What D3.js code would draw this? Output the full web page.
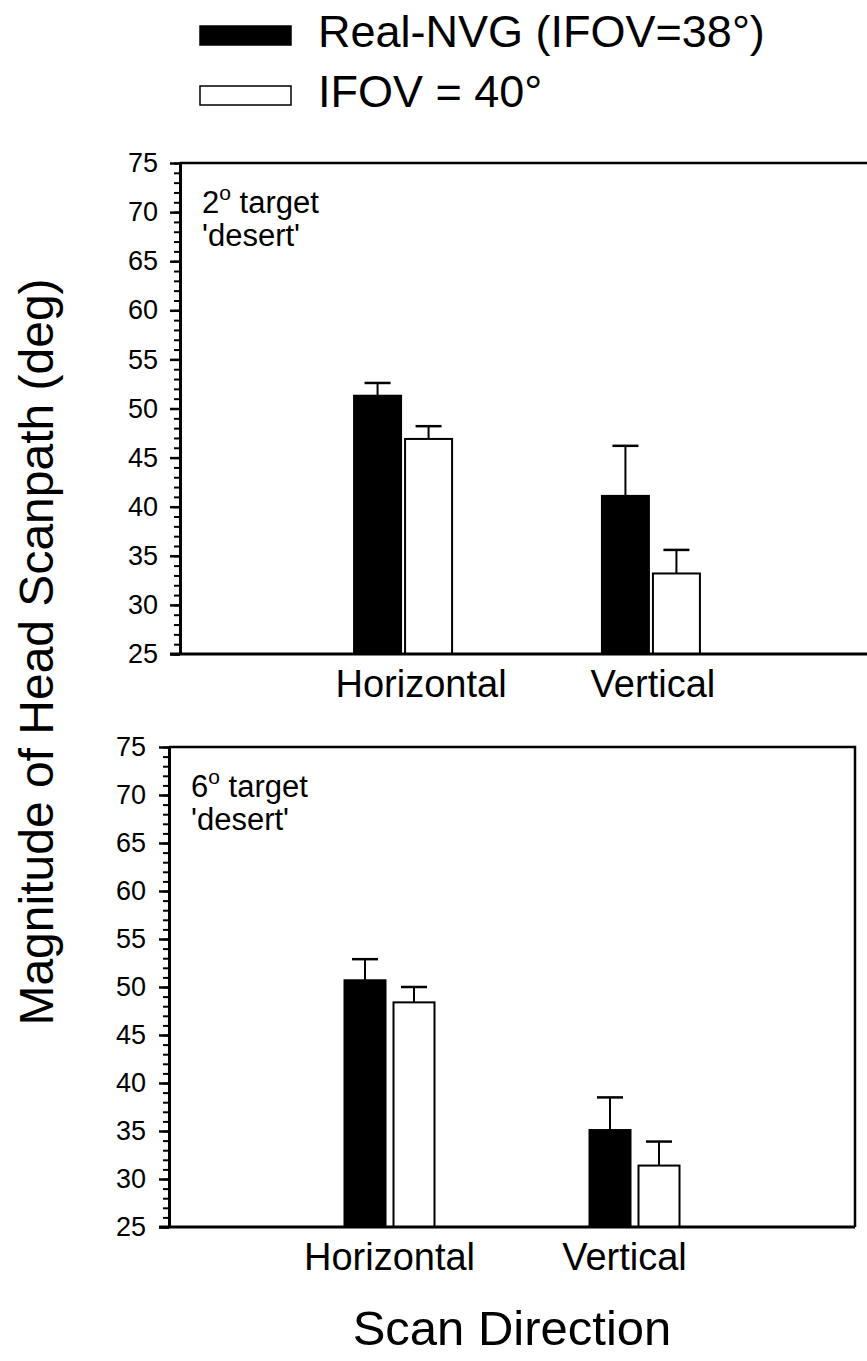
<!DOCTYPE html>
<html>
<head>
<meta charset="utf-8">
<script src="https://cdn.jsdelivr.net/npm/d3@7"></script>
<style>
  body { margin: 0; background: #fff; }
  svg { display: block; font-family: "Liberation Sans", Arial, sans-serif; }
</style>
</head>
<body>
<div id="chart"></div>
<script>
// data
var categories = ["Horizontal", "Vertical"];
var seriesNames = ["Real-NVG (IFOV=38°)", "IFOV = 40°"];
var panelLabels = [["2", " target", "'desert'"], ["6", " target", "'desert'"]];
var yTicks = [25, 30, 35, 40, 45, 50, 55, 60, 65, 70, 75];

// 2 deg target
var realNVG2 = [51.3, 41.1];
var realNVG2Err = [1.3, 5.1];
var ifov40_2 = [46.9, 33.2];
var ifov40_2Err = [1.3, 2.4];
// 6 deg target
var realNVG6 = [50.7, 35.1];
var realNVG6Err = [2.2, 3.4];
var ifov40_6 = [48.4, 31.4];
var ifov40_6Err = [1.6, 2.5];

var width = 867, height = 1361;
var svg = d3.select("#chart").append("svg")
  .attr("width", width)
  .attr("height", height);

// legend
var legend = svg.append("g");
var fills = ["#000", "#fff"];
seriesNames.forEach(function(name, i) {
  var y = [26, 86][i];
  legend.append("rect")
    .attr("x", 200).attr("y", y)
    .attr("width", 91).attr("height", 19)
    .attr("fill", fills[i])
    .attr("stroke", "#000").attr("stroke-width", 1.5);
  legend.append("text")
    .attr("x", 318).attr("y", y + 21)
    .style("font-size", "45px")
    .text(name);
});

function drawPanel(opt) {
  var g = svg.append("g");
  var y = d3.scaleLinear().domain([25, 75]).range([opt.bottom, opt.top]);
  var x = d3.scalePoint().domain(categories).range([opt.left, opt.right]).padding(0.9);

  // frame (top and right sides)
  g.append("path")
    .attr("d", "M" + opt.left + "," + opt.top + "H" + opt.right + "V" + opt.bottom)
    .attr("fill", "none").attr("stroke", "#000").attr("stroke-width", 2.5);

  // bars
  var rows = [
    {vals: opt.real, err: opt.realErr, fill: "#000", off: -opt.gap / 2 - opt.bw},
    {vals: opt.ifov, err: opt.ifovErr, fill: "#fff", off: opt.gap / 2}
  ];
  rows.forEach(function(r) {
    var bars = g.selectAll(null).data(categories).enter();
    // error bars (upper only)
    bars.append("line")
      .attr("x1", function(d) { return x(d) + r.off + opt.bw / 2; })
      .attr("x2", function(d) { return x(d) + r.off + opt.bw / 2; })
      .attr("y1", function(d, i) { return y(r.vals[i]); })
      .attr("y2", function(d, i) { return y(r.vals[i] + r.err[i]); })
      .attr("stroke", "#000").attr("stroke-width", 2);
    bars.append("line")
      .attr("x1", function(d) { return x(d) + r.off + opt.bw / 2 - 13; })
      .attr("x2", function(d) { return x(d) + r.off + opt.bw / 2 + 13; })
      .attr("y1", function(d, i) { return y(r.vals[i] + r.err[i]); })
      .attr("y2", function(d, i) { return y(r.vals[i] + r.err[i]); })
      .attr("stroke", "#000").attr("stroke-width", 2.5);
    bars.append("rect")
      .attr("x", function(d) { return x(d) + r.off; })
      .attr("y", function(d, i) { return y(r.vals[i]); })
      .attr("width", opt.bw)
      .attr("height", function(d, i) { return y(25) - y(r.vals[i]); })
      .attr("fill", r.fill)
      .attr("stroke", "#000").attr("stroke-width", 2);
  });

  // minor ticks every 1 unit
  g.append("g")
    .attr("transform", "translate(" + opt.left + ",0)")
    .call(d3.axisLeft(y).tickValues(d3.range(25, 76, 1)).tickSize(6).tickFormat(""))
    .call(function(a) { a.select(".domain").remove(); })
    .selectAll("line").attr("stroke-width", 2);

  // major ticks
  var yAxis = g.append("g")
    .attr("transform", "translate(" + opt.left + ",0)")
    .call(d3.axisLeft(y).tickValues(yTicks).tickSize(10).tickPadding(opt.tickPad).tickSizeOuter(0));
  yAxis.select(".domain").attr("stroke-width", 3);
  yAxis.selectAll("line").attr("stroke-width", 2.5);
  yAxis.attr("font-size", null).attr("font-family", null);
  yAxis.selectAll("text")
    .style("font-size", "27px")
    .style("font-family", "'Liberation Sans', Arial, sans-serif")
    .attr("fill", "#000");

  // x axis line
  g.append("line")
    .attr("x1", opt.left - 10).attr("x2", opt.right)
    .attr("y1", opt.bottom).attr("y2", opt.bottom)
    .attr("stroke", "#000").attr("stroke-width", 3);

  // category labels
  g.selectAll(null).data(categories).enter()
    .append("text")
    .attr("x", function(d, i) { return x(d) + opt.labelOff[i]; })
    .attr("y", opt.bottom + 43)
    .attr("text-anchor", "middle")
    .style("font-size", "38px")
    .text(function(d) { return d; });

  // panel annotation
  var ann = g.append("text")
    .attr("x", opt.left + 22)
    .attr("y", opt.top + 50)
    .style("font-size", "31px");
  ann.append("tspan").text(opt.label[0]);
  ann.append("tspan").attr("dy", -13).style("font-size", "21px").text("o");
  ann.append("tspan").attr("dy", 13).text(opt.label[1]);
  g.append("text")
    .attr("x", opt.left + 22)
    .attr("y", opt.top + 83)
    .style("font-size", "31px")
    .text(opt.label[2]);
}

drawPanel({
  top: 163, bottom: 654, left: 180, right: 874,
  bw: 47, gap: 4, tickPad: 12, labelOff: [18, 2],
  real: realNVG2, realErr: realNVG2Err, ifov: ifov40_2, ifovErr: ifov40_2Err,
  label: panelLabels[0]
});

drawPanel({
  top: 747, bottom: 1227, left: 169, right: 855,
  bw: 41, gap: 8, tickPad: 13, labelOff: [0, -10],
  real: realNVG6, realErr: realNVG6Err, ifov: ifov40_6, ifovErr: ifov40_6Err,
  label: panelLabels[1]
});

// axis titles
svg.append("text")
  .attr("transform", "translate(53,652) rotate(-90)")
  .attr("text-anchor", "middle")
  .style("font-size", "48px")
  .text("Magnitude of Head Scanpath (deg)");

svg.append("text")
  .attr("x", 512).attr("y", 1345)
  .attr("text-anchor", "middle")
  .style("font-size", "49px")
  .text("Scan Direction");
</script>
</body>
</html>
